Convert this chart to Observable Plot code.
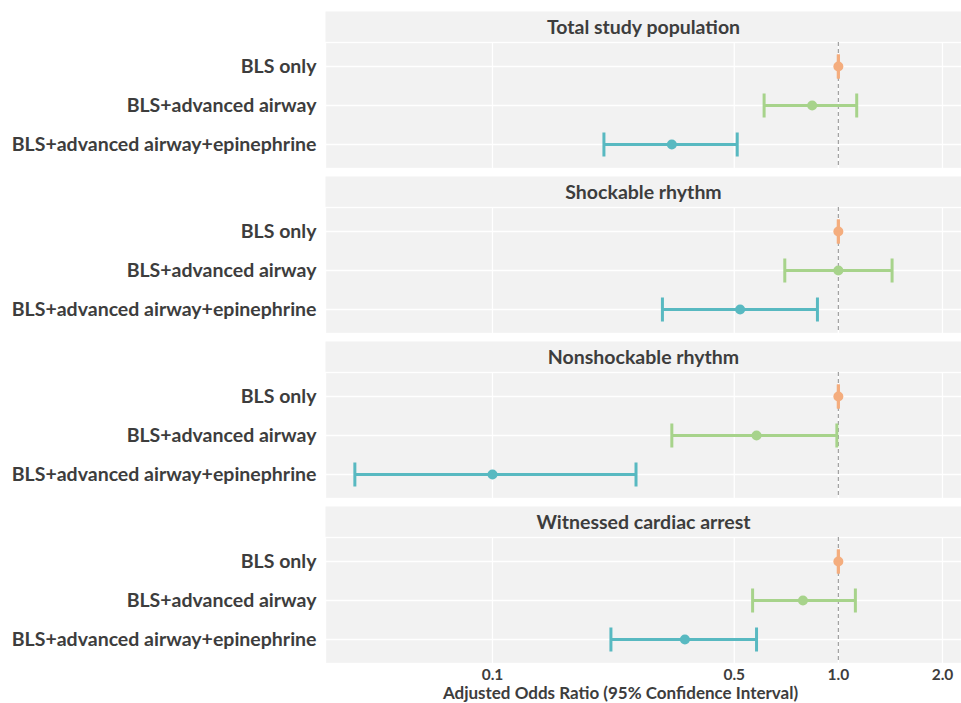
<!DOCTYPE html>
<html><head><meta charset="utf-8">
<script src="https://cdn.jsdelivr.net/npm/d3@7"></script>
<script src="https://cdn.jsdelivr.net/npm/@observablehq/plot@0.6"></script>
<style>
body{margin:0;background:#fff;}
</style>
</head><body><div id="chart"></div>
<script>
const panels = ["Total study population", "Shockable rhythm", "Nonshockable rhythm", "Witnessed cardiac arrest"];
const groups = ["BLS only", "BLS+advanced airway", "BLS+advanced airway+epinephrine"];
// adjusted odds ratios per panel, in the order of groups
const estimates = [[1.0, 0.84, 0.33], [1.0, 1.0, 0.52], [1.0, 0.58, 0.10], [1.0, 0.79, 0.36]];
const lower     = [[1.0, 0.61, 0.21], [1.0, 0.70, 0.31], [1.0, 0.33, 0.040], [1.0, 0.565, 0.22]];
const upper     = [[1.0, 1.13, 0.51], [1.0, 1.43, 0.87], [1.0, 0.99, 0.26], [1.0, 1.12, 0.58]];
const groupColors = ["#F4AD7E", "#A7D38B", "#58B9C1"];
const xTicks = [0.1, 0.5, 1.0, 2.0];
const xDomain = [0.0329, 2.27];
const xTitle = "Adjusted Odds Ratio (95% Confidence Interval)";

const rows = [];
panels.forEach((p, i) => groups.forEach((g, j) => rows.push({
  panel: p, group: g, est: estimates[i][j], lo: lower[i][j], hi: upper[i][j]
})));

const capSymbol = {draw(ctx, size) { const h = Math.sqrt(size / Math.PI); ctx.moveTo(0, -h); ctx.lineTo(0, h); }};
const textColor = "#3d3d3d";
const font = "Lato, 'Open Sans', sans-serif";

const chart = Plot.plot({
  width: 961, height: 703,
  marginLeft: 325, marginRight: 0, marginTop: 11, marginBottom: 40,
  style: {fontFamily: font, background: "white", color: textColor},
  facet: {data: rows, y: "panel", label: null},
  fy: {domain: panels, paddingInner: 8 / 165, paddingOuter: 0, axis: null},
  x: {type: "log", domain: xDomain},
  y: {domain: groups, type: "point", insetTop: 31, padding: 0.6},
  color: {domain: groups, range: groupColors},
  marks: [
    Plot.frame({fill: "#F2F2F2"}),
    Plot.frame({stroke: "white", strokeWidth: 1.3, insetTop: 31}),
    Plot.ruleY(groups, {y: d => d, stroke: "white", strokeWidth: 1.3}),
    Plot.ruleX(xTicks, {x: d => d, stroke: "white", strokeWidth: 1.3, insetTop: 31}),
    Plot.ruleX([1], {x: d => d, stroke: "#a0a0a0", strokeWidth: 1.2, strokeDasharray: "4,3", insetTop: 31}),
    Plot.ruleY(rows, {y: "group", x1: "lo", x2: "hi", stroke: "group", strokeWidth: 3}),
    Plot.dot(rows, {y: "group", x: "lo", symbol: capSymbol, r: 12, fill: "none", stroke: "group", strokeWidth: 3}),
    Plot.dot(rows, {y: "group", x: "hi", symbol: capSymbol, r: 12, fill: "none", stroke: "group", strokeWidth: 3}),
    Plot.dot(rows, {y: "group", x: "est", r: 5, fill: "group", stroke: "none"}),
    Plot.text(rows, {filter: d => d.group === groups[0], text: "panel", frameAnchor: "top", lineAnchor: "middle", dy: 16,
      fontSize: 19.5, fontWeight: "bold", fill: textColor}),
    Plot.text(rows, {filter: d => d.group === groups[0] && d.panel === panels[panels.length - 1], text: () => xTitle,
      frameAnchor: "bottom", lineAnchor: "middle", dy: 30, dx: -23, fontSize: 17, fontWeight: "bold", fill: textColor}),
    Plot.axisY({tickSize: 0, tickPadding: 9, fontSize: 19.5, fontWeight: "bold", fill: textColor, label: null}),
    Plot.axisX({ticks: xTicks, tickSize: 0, tickPadding: 5, tickFormat: d => d.toFixed(1), fontSize: 15.5, fontWeight: "bold", fill: textColor, label: null})
  ]
});
document.getElementById("chart").appendChild(chart);
</script>
</body></html>
